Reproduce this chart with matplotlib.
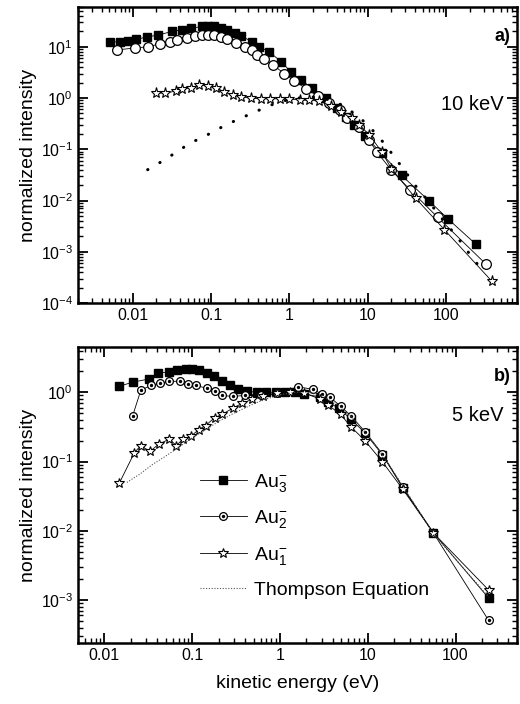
import matplotlib
matplotlib.use('Agg')
import matplotlib.pyplot as plt
from matplotlib.ticker import LogLocator, FixedLocator, FixedFormatter, NullFormatter, LogFormatterSciNotation

plt.rcParams['font.family'] = ['Liberation Sans', 'DejaVu Sans']
plt.rcParams['mathtext.fontset'] = 'custom'
plt.rcParams['mathtext.rm'] = 'Liberation Sans'
plt.rcParams['mathtext.it'] = 'Liberation Sans:italic'
plt.rcParams['mathtext.bf'] = 'Liberation Sans:bold'
plt.rcParams['mathtext.default'] = 'regular'

# ---------------- data: panel a) 10 keV ----------------
x_au3_a = [0.0051, 0.0068, 0.0086, 0.011, 0.015, 0.021, 0.032, 0.042, 0.056, 0.076, 0.09, 0.11,
           0.135, 0.16, 0.2, 0.24, 0.33, 0.41, 0.55, 0.79, 1.05, 1.4, 1.95, 2.9, 4.1, 5.2, 6.7,
           9.3, 15, 27, 60, 107, 240]
y_au3_a = [12.5, 12.5, 13, 14, 15.5, 17, 20, 21.5, 23, 25, 25.5, 25, 23, 21.5, 18.6, 16.4, 12.7,
           10.1, 8, 5.1, 3.2, 2.25, 1.57, 1.0, 0.64, 0.42, 0.3, 0.18, 0.083, 0.031, 0.01, 0.0043,
           0.0014]

x_au2_a = [0.0063, 0.0106, 0.0155, 0.022, 0.03, 0.037, 0.049, 0.062, 0.076, 0.09, 0.11, 0.135,
           0.16, 0.21, 0.27, 0.33, 0.39, 0.48, 0.62, 0.86, 1.15, 1.65, 2.3, 3.2, 4.4, 5.5, 7.8,
           10.4, 13, 20, 35, 78, 320]
y_au2_a = [8.7, 9.5, 10, 11.4, 12.6, 13.7, 15, 16.4, 17, 17, 17, 15.7, 14, 12, 10, 8.5, 7, 5.8,
           4.4, 3.0, 2.2, 1.5, 1.1, 0.8, 0.58, 0.4, 0.27, 0.15, 0.09, 0.039, 0.016, 0.0047,
           0.00058]

x_au1_a = [0.02, 0.0256, 0.036, 0.043, 0.056, 0.071, 0.09, 0.117, 0.148, 0.19, 0.24, 0.32, 0.43,
           0.57, 0.76, 1.0, 1.35, 1.8, 2.4, 3.4, 4.6, 6.2, 7.8, 10.5, 15, 20, 41, 95, 380]
y_au1_a = [1.25, 1.25, 1.37, 1.5, 1.6, 1.8, 1.7, 1.6, 1.3, 1.15, 1.05, 1.0, 0.97, 0.97, 0.97,
           0.95, 0.92, 0.9, 0.88, 0.7, 0.53, 0.4, 0.3, 0.19, 0.09, 0.042, 0.011, 0.0027, 0.00027]

x_th_a = [0.0155, 0.02, 0.027, 0.034, 0.045, 0.058, 0.078, 0.1, 0.13, 0.16, 0.22, 0.28, 0.38,
          0.48, 0.65, 0.9, 1.3, 2, 3, 4.5, 7, 10, 15, 20, 30, 40, 60, 90, 140, 200, 300]
y_th_a = [0.04, 0.05, 0.066, 0.083, 0.11, 0.14, 0.17, 0.21, 0.26, 0.31, 0.38, 0.45, 0.55, 0.65,
          0.78, 0.9, 1.0, 1.05, 0.95, 0.75, 0.48, 0.3, 0.15, 0.085, 0.037, 0.02, 0.0095, 0.0043,
          0.0019, 0.0009, 0.0004]

# ---------------- data: panel b) 5 keV ----------------
x_au3_b = [0.0148, 0.021, 0.032, 0.041, 0.055, 0.068, 0.084, 0.1, 0.12, 0.146, 0.176, 0.22, 0.27,
           0.33, 0.42, 0.55, 0.7, 0.9, 1.15, 1.5, 1.9, 2.85, 3.5, 4.7, 6.4, 9.3, 14.6, 25, 56, 238]
y_au3_b = [1.22, 1.4, 1.55, 1.9, 1.95, 2.1, 2.2, 2.15, 2.1, 1.9, 1.7, 1.45, 1.26, 1.1, 1.03, 1.0,
           1.0, 1.0, 1.02, 1.02, 0.95, 0.85, 0.72, 0.59, 0.41, 0.26, 0.126, 0.042, 0.0093, 0.00107]

x_au2_b = [0.021, 0.026, 0.034, 0.043, 0.055, 0.072, 0.089, 0.11, 0.146, 0.18, 0.22, 0.29, 0.4,
           0.6, 0.93, 1.6, 2.4, 3.0, 3.7, 4.9, 6.4, 9.3, 14.6, 25, 56, 238]
y_au2_b = [0.46, 1.07, 1.26, 1.35, 1.44, 1.44, 1.3, 1.26, 1.14, 1.03, 0.9, 0.87, 0.9, 0.92, 0.96,
           1.2, 1.1, 0.94, 0.85, 0.63, 0.46, 0.27, 0.13, 0.043, 0.0093, 0.00051]

x_au1_b = [0.0148, 0.022, 0.026, 0.033, 0.042, 0.055, 0.066, 0.078, 0.096, 0.119, 0.142, 0.18,
           0.22, 0.29, 0.37, 0.48, 0.64, 0.93, 1.3, 1.9, 2.85, 3.5, 4.9, 6.4, 9.3, 14.6, 25, 56,
           238]
y_au1_b = [0.049, 0.135, 0.17, 0.14, 0.18, 0.21, 0.17, 0.21, 0.23, 0.29, 0.33, 0.43, 0.48, 0.59,
           0.69, 0.79, 0.87, 0.96, 1.0, 0.97, 0.8, 0.66, 0.48, 0.32, 0.2, 0.1, 0.04, 0.0093, 0.0014]

x_th_b = [0.018, 0.025, 0.035, 0.05, 0.07, 0.1, 0.15, 0.2, 0.3, 0.5, 0.7, 1, 1.5, 2, 3, 5, 7, 10,
          15, 25, 56, 240]
y_th_b = [0.05, 0.065, 0.09, 0.12, 0.16, 0.22, 0.3, 0.38, 0.5, 0.68, 0.8, 0.92, 1.0, 1.0, 0.9,
          0.6, 0.4, 0.24, 0.12, 0.045, 0.009, 0.0011]

xtick_vals = [0.01, 0.1, 1, 10, 100]
xtick_labels = ['0.01', '0.1', '1', '10', '100']
legend_labels = [r'Au$_3^{-}$', r'Au$_2^{-}$', r'Au$_1^{-}$', 'Thompson Equation']

fig = plt.figure(figsize=(5.2, 7.04), dpi=100)
ax1 = fig.add_axes([0.15, 0.5696, 0.844, 0.4205])
ax2 = fig.add_axes([0.15, 0.0866, 0.844, 0.4205])

LW = 0.6


def style(ax, xlim, ylim):
    ax.set_xscale('log')
    ax.set_yscale('log')
    ax.set_xlim(*xlim)
    ax.set_ylim(*ylim)
    ax.xaxis.set_major_locator(FixedLocator(xtick_vals))
    ax.xaxis.set_major_formatter(FixedFormatter(xtick_labels))
    ax.xaxis.set_minor_locator(LogLocator(base=10, subs=range(2, 10), numticks=20))
    ax.xaxis.set_minor_formatter(NullFormatter())
    ax.yaxis.set_major_locator(LogLocator(base=10, numticks=20))
    ax.yaxis.set_major_formatter(LogFormatterSciNotation())
    ax.yaxis.set_minor_locator(LogLocator(base=10, subs=range(2, 10), numticks=20))
    ax.yaxis.set_minor_formatter(NullFormatter())
    ax.tick_params(which='both', direction='in', top=True, right=True, labelsize=11.5)
    ax.tick_params(which='major', length=7, width=1.3)
    ax.tick_params(which='minor', length=3.5, width=1.0)
    for s in ax.spines.values():
        s.set_linewidth(1.8)
    ax.set_ylabel('normalized intensity', fontsize=14, labelpad=3)


# ---- panel a
ax1.plot(x_au3_a, y_au3_a, '-', color='black', lw=LW, marker='s', ms=6.3, mfc='black', mec='black')
ax1.plot(x_au2_a, y_au2_a, '-', color='black', lw=LW, marker='o', ms=7, mfc='white', mec='black', mew=0.9)
ax1.plot(x_au1_a, y_au1_a, '-', color='black', lw=LW, marker='*', ms=8, mfc='white', mec='black', mew=0.8)
ax1.plot(x_th_a, y_th_a, color='black', lw=2.2, linestyle=(0, (0.1, 4.5)), dash_capstyle='round')
style(ax1, (0.002, 800), (1e-4, 60))
ax1.text(0.985, 0.90, 'a)', transform=ax1.transAxes, ha='right', va='center', fontsize=13, fontweight='bold')
ax1.text(0.97, 0.67, '10 keV', transform=ax1.transAxes, ha='right', va='center', fontsize=14.5)

# ---- panel b
l3, = ax2.plot(x_au3_b, y_au3_b, '-', color='black', lw=LW, marker='s', ms=5.4, mfc='black', mec='black')
l2, = ax2.plot(x_au2_b, y_au2_b, '-', color='black', lw=LW, marker='o', ms=5.6, mfc='white', mec='black', mew=0.9)
l2d, = ax2.plot(x_au2_b, y_au2_b, 'o', color='black', ms=1.4, lw=0)
l1, = ax2.plot(x_au1_b, y_au1_b, '-', color='black', lw=LW, marker='*', ms=7.2, mfc='white', mec='black', mew=0.8)
lt, = ax2.plot(x_th_b, y_th_b, color='#555555', lw=0.8, linestyle=(0, (1, 1.5)))
style(ax2, (0.005, 500), (2.4e-4, 4.5))
ax2.set_xlabel('kinetic energy (eV)', fontsize=14, labelpad=9)
ax2.text(0.985, 0.90, 'b)', transform=ax2.transAxes, ha='right', va='center', fontsize=13, fontweight='bold')
ax2.text(0.97, 0.77, '5 keV', transform=ax2.transAxes, ha='right', va='center', fontsize=14.5)

ax2.legend([l3, (l2, l2d), l1, lt], legend_labels, loc='upper left', bbox_to_anchor=(0.26, 0.605),
           frameon=False, fontsize=14, handlelength=2.4, labelspacing=0.75, handletextpad=0.4,
           borderaxespad=0)

fig.savefig('out.png', dpi=100)
